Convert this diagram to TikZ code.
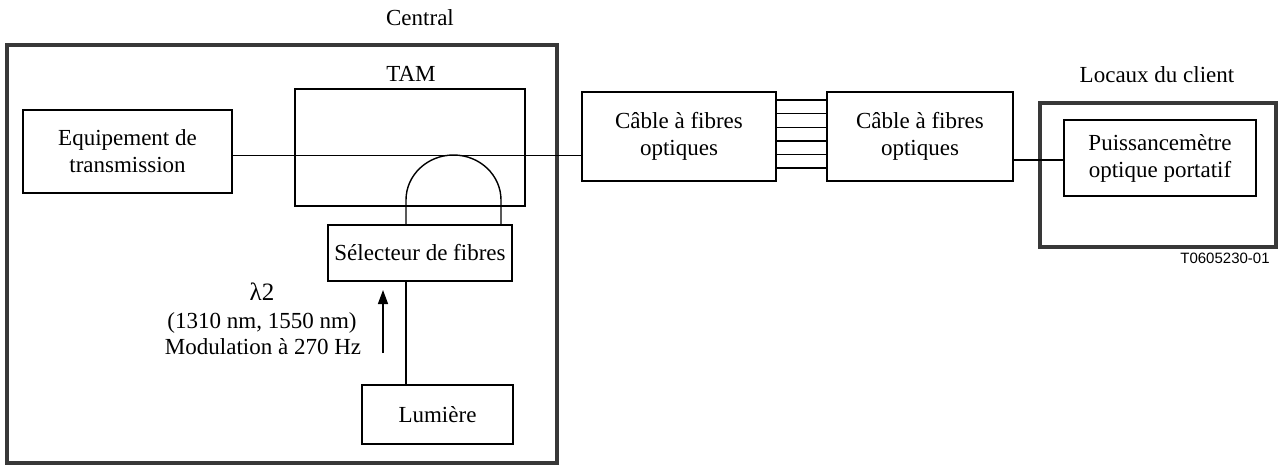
\documentclass[tikz,border=0pt]{standalone}
\usepackage{fontspec}
\setmainfont{Liberation Serif}
\newfontfamily\labsans{Liberation Sans}
\usetikzlibrary{arrows.meta}
\begin{document}
\begin{tikzpicture}[x=1pt,y=-1pt,
  thin line/.style={line width=1.4pt,black},
  frame/.style={draw=black!78,line width=3.5pt},
  blk/.style={draw,thin line,rectangle,inner sep=0pt,align=center,font=\fontsize{23}{27}\selectfont},
  lab/.style={inner sep=0pt,font=\fontsize{23}{27}\selectfont,align=center}]
\useasboundingbox (0,0) rectangle (1280,466);
% frames
\node[frame,minimum width=550pt,minimum height=418pt,inner sep=0pt] (central) at (282,254) {};
\node[frame,minimum width=236pt,minimum height=144pt,inner sep=0pt] (client) at (1158,175) {};
\node[lab] (centrallab) at (420,18) {Central};
\node[lab] (clientlab) at (1157,75) {Locaux du client};
\node[inner sep=0pt,font=\labsans\fontsize{15}{18}\selectfont] (ref) at (1225,258) {T0605230-01};
% blocks
\node[blk,minimum width=209pt,minimum height=83pt] (equip) at (127.5,151.5) {Equipement de\\transmission};
\node[blk,minimum width=230pt,minimum height=117pt] (tam) at (410,147.5) {};
\node[lab] (tamlab) at (411,74) {TAM};
\node[blk,minimum width=184pt,minimum height=56pt] (sel) at (420,253) {S\'electeur de fibres};
\node[blk,minimum width=151pt,minimum height=59pt] (lum) at (437.5,414.5) {Lumi\`ere};
\node[blk,minimum width=194pt,minimum height=89pt] (cab1) at (679,136.5) {C\^able \`a fibres\\optiques};
\node[blk,minimum width=186pt,minimum height=89pt] (cab2) at (920,136.5) {C\^able \`a fibres\\optiques};
\node[blk,minimum width=192pt,minimum height=76pt] (puis) at (1160,158) {Puissancem\`etre\\optique portatif};
% lambda labels
\node[lab,font=\fontsize{25}{28}\selectfont] (lam1) at (262,292) {λ2};
\node[lab] (lam2) at (262,323) {(1310 nm, 1550 nm)};
\node[lab] (lam3) at (263,347) {Modulation \`a 270 Hz};
% connectors
\coordinate (busy) at (0,155.5);
\draw[thin line] (equip.east |- busy) -- (cab1.west |- busy);
\coordinate (outy) at (0,160);
\draw[thin line] (cab2.east |- outy) -- (puis.west |- outy);
\foreach \i in {0,...,5} {
  \coordinate (f\i) at (0,100+13.6*\i);
  \draw[thin line] (cab1.east |- f\i) -- (cab2.west |- f\i);
}
\coordinate (loopL) at (406,200);
\coordinate (loopR) at (501,200);
\draw[thin line] (sel.north -| loopL) -- (loopL)
  arc[start angle=180,end angle=0,x radius=47.5pt,y radius=45pt] -- (sel.north -| loopR);
\draw[thin line] (sel.south -| loopL) -- (lum.north -| loopL);
\coordinate (arrS) at (383,353);
\coordinate (arrE) at (383,290);
\draw[thin line,-{Triangle[length=14pt,width=10pt]}] (arrS) -- (arrE);
\end{tikzpicture}
\end{document}
